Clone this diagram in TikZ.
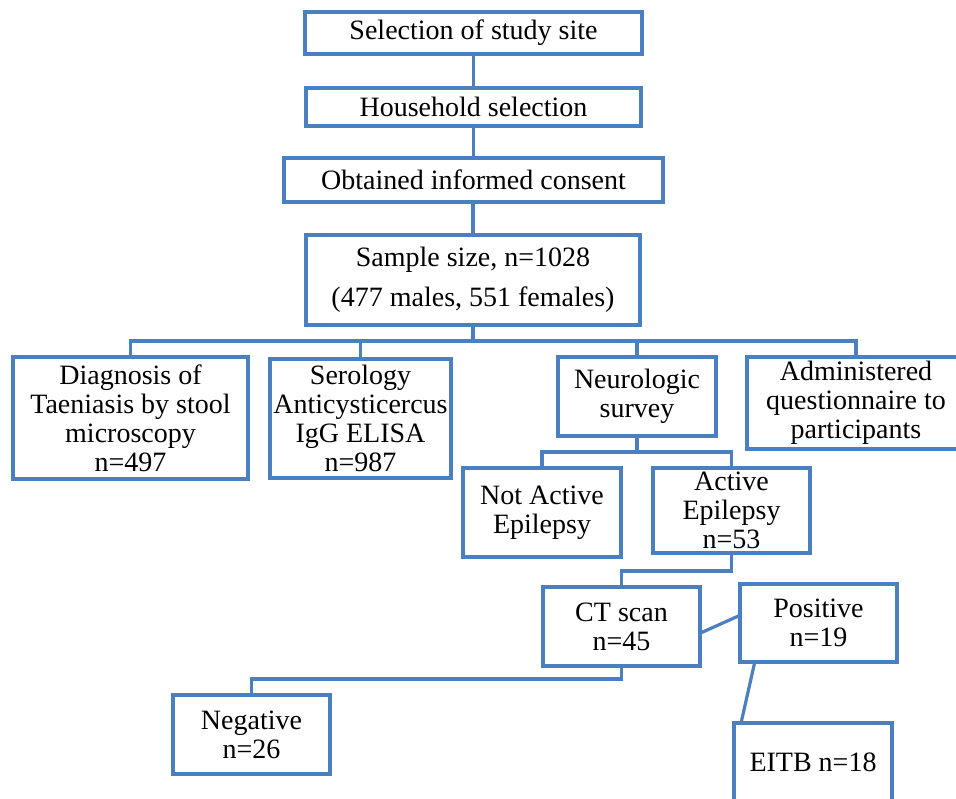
\documentclass[tikz,border=0pt]{standalone}
\usepackage{fontspec}
\setmainfont{Liberation Serif}
\definecolor{boxblue}{RGB}{74,128,192}
\tikzset{
  fbox/.style={draw=boxblue, line width=1.6pt, rectangle, inner sep=0pt, align=center,
    font=\fontsize{14}{14.5}\selectfont, text=black},
  conn/.style={draw=boxblue, line width=1.6pt}
}
\begin{document}
\begin{tikzpicture}[x=0.5pt,y=-0.5pt]
\useasboundingbox (0,0) rectangle (956,798);
\fill[white] (0,0) rectangle (956,798);
% boxes (centres and sizes in pixels of the reference)
\node[fbox, minimum width=168.5pt, minimum height=21pt] (sel) at (473.5,33) {Selection of study site};
\node[fbox, minimum width=167.5pt, minimum height=19pt] (hh) at (473.5,107) {Household selection};
\node[fbox, minimum width=189.5pt, minimum height=22pt] (cons) at (473.5,180) {Obtained informed consent};
\node[fbox, minimum width=167pt, minimum height=45pt, font=\fontsize{14}{20}\selectfont] (samp) at (473,280) {Sample size, n=1028\\(477 males, 551 females)};
\node[fbox, minimum width=117.5pt, minimum height=61pt] (diag) at (130.5,418) {Diagnosis of\\Taeniasis by stool\\microscopy\\n=497};
\node[fbox, minimum width=90.5pt, minimum height=59.5pt] (sero) at (360.5,418.5) {Serology\\Anticysticercus\\IgG ELISA\\n=987};
\node[fbox, minimum width=79pt, minimum height=39.5pt] (neuro) at (637,396.5) {Neurologic\\survey};
\node[fbox, minimum width=109pt, minimum height=46pt] (admin) at (856,403) {Administered\\questionnaire to\\participants};
\node[fbox, minimum width=79pt, minimum height=44.5pt] (notact) at (542,512.5) {Not Active\\Epilepsy};
\node[fbox, minimum width=78.5pt, minimum height=42.5pt] (active) at (731.5,510.5) {Active\\Epilepsy\\n=53};
\node[fbox, minimum width=78.5pt, minimum height=39.5pt] (ct) at (621.5,626.5) {CT scan\\n=45};
\node[fbox, minimum width=78.5pt, minimum height=39pt] (pos) at (818.5,623) {Positive\\n=19};
\node[fbox, minimum width=78.5pt, minimum height=39.5pt] (neg) at (251.5,734.5) {Negative\\n=26};
\node[fbox, minimum width=79pt, minimum height=39pt] (eitb) at (813,762) {EITB n=18};
% connectors
\draw[conn] (sel.south) -- (hh.north);
\draw[conn] (hh.south) -- (cons.north);
\draw[conn] (cons.south) -- (samp.south |- cons.south) -- (samp.north);
\coordinate (b1) at (473,341);
\draw[conn] (samp.south) -- (samp.south |- b1);
\draw[conn] (diag.north) |- (admin.north |- b1) -- (admin.north);
\draw[conn] (sero.north) -- (sero.north |- b1);
\draw[conn] (neuro.north) -- (neuro.north |- b1);
\coordinate (b2) at (637,452);
\draw[conn] (neuro.south) -- (neuro.south |- b2);
\draw[conn] (notact.north) |- (active.north |- b2) -- (active.north);
\coordinate (b3) at (700,571);
\draw[conn] (active.south) |- (ct.north |- b3) -- (ct.north);
\coordinate (b4) at (600,679);
\draw[conn] (ct.south) |- (neg.north |- b4) -- (neg.north);
\draw[conn] ([yshift=-3pt]ct.east) -- ([yshift=3.5pt]pos.west);
\draw[conn] ([xshift=8pt]pos.south west) -- ([xshift=4.5pt]eitb.north west);
\end{tikzpicture}
\end{document}
